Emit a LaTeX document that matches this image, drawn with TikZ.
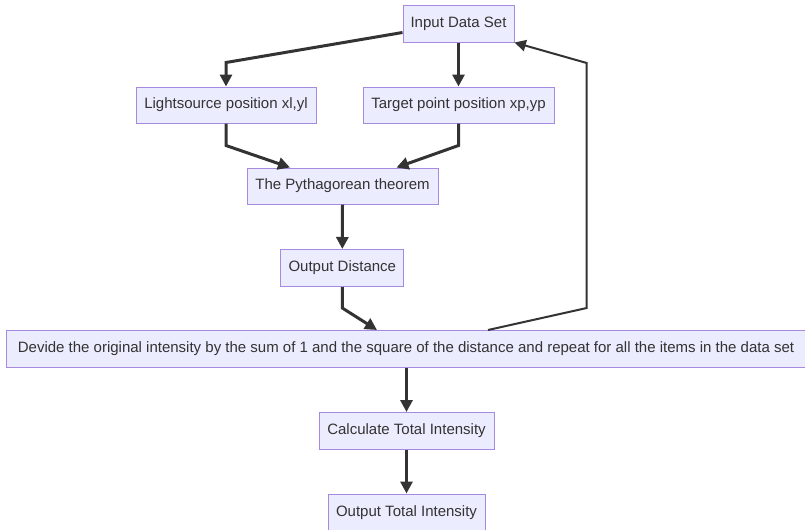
\documentclass[tikz,border=0pt]{standalone}
\usepackage{fontspec}
\setmainfont{Liberation Sans}
\usetikzlibrary{arrows.meta,calc}
\definecolor{boxfill}{HTML}{ECECFF}
\definecolor{boxline}{HTML}{A58AE0}
\definecolor{ink}{HTML}{333333}
\begin{document}
\begin{tikzpicture}[x=0.75pt,y=-0.75pt,
  box/.style={draw=boxline,fill=boxfill,line width=0.75pt,minimum height=27.75pt,inner sep=0pt,text=ink,font=\fontsize{11.25}{13}\selectfont},
  flow/.style={draw=ink,line width=2.25pt,-{Triangle[length=9pt,width=9pt]}},
  back/.style={draw=ink,line width=1.5pt,-{Triangle[length=8.5pt,width=8.5pt]}}]
\useasboundingbox (0,0) rectangle (805,529);
\fill[white] (0,0) rectangle (805,529);
\clip (0,0) rectangle (805,529);

\node[box,minimum width=83.25pt] (in) at (458.5,23.5) {Input Data Set};
\node[box,minimum width=135pt,minimum height=27pt] (ls) at (226,105) {Lightsource position xl,yl};
\node[box,minimum width=143.25pt,minimum height=27pt] (tp) at (458.5,105) {Target point position xp,yp};
\node[box,minimum width=143.25pt,minimum height=27pt] (py) at (342.5,186) {The Pythagorean theorem};
\node[box,minimum width=92.25pt] (od) at (342.3,268) {Output Distance};
\node[box,minimum width=606pt] (big) at (410,349) {\hspace*{-6pt}Devide the original intensity by the sum of 1 and the square of the distance and repeat for all the items in the data set};
\node[box,minimum width=131.25pt] (calc) at (406.5,431) {Calculate Total Intensity};
\node[box,minimum width=117.75pt] (out) at (406.5,512.5) {Output Total Intensity};

\draw[flow] ($(in.west)+(0,9)$) -- ($(ls.north)+(0,-24)$) -- (ls.north);
\draw[flow] (in.south) -- (tp.north);
\draw[flow] (ls.south) -- ++(0,22) -- ($(py.north)+(-52.5,0)$);
\draw[flow] (tp.south) -- ++(0,22) -- ($(py.north)+(54,0)$);
\draw[flow] (py.south) -- (od.north);
\draw[flow] (od.south) -- ++(0,21) -- ($(big.north)+(-33,0)$);
\draw[back] ($(big.north)+(78,0)$) -- (586.7,308) -- (586.7,63) -- (in.south east);
\draw[flow] (calc.north |- big.south) -- (calc.north);
\draw[flow] (calc.south) -- (out.north);
\end{tikzpicture}
\end{document}
